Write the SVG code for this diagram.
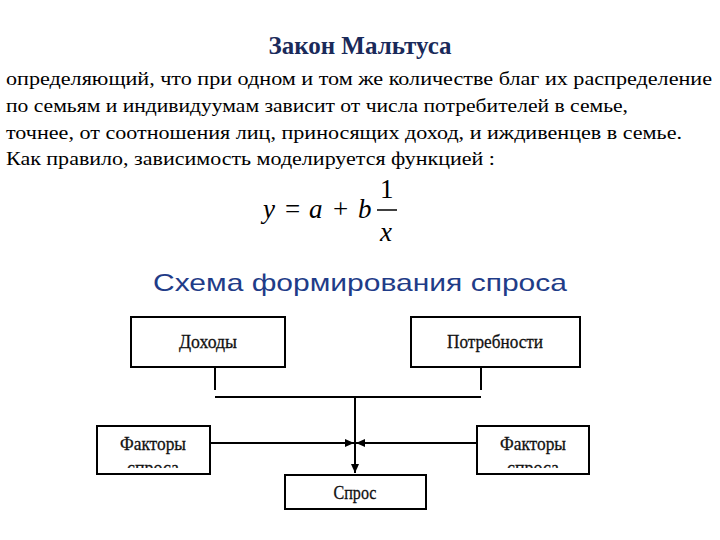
<svg xmlns="http://www.w3.org/2000/svg" width="720" height="540" viewBox="0 0 720 540">
<style>
.b{fill:#fff;stroke:#000;stroke-width:2}
.t{font-family:'Liberation Serif',serif;font-size:19px;fill:#111;text-anchor:middle;stroke:#111;stroke-width:0.3}
.p{font-family:'Liberation Serif',serif;font-size:19.5px;fill:#000}
.c{stroke:#000;stroke-width:2;fill:none}
.m{font-family:'Liberation Serif',serif;font-size:27px;font-style:italic}
.n{font-family:'Liberation Serif',serif;font-size:27px}
</style>
<defs>
<marker id="a" markerWidth="10" markerHeight="10" refX="9" refY="5" orient="auto" markerUnits="userSpaceOnUse"><path d="M0,1 L9,5 L0,9 Z" fill="#000"/></marker>
<clipPath id="cl"><rect x="97" y="426" width="113" height="42"/></clipPath>
<clipPath id="cr"><rect x="477" y="426" width="112" height="42"/></clipPath>
</defs>
<rect width="720" height="540" fill="#fff"/>
<text x="360" y="54" text-anchor="middle" font-family="'Liberation Serif',serif" font-weight="bold" font-size="25" fill="#1a2a5a">Закон Мальтуса</text>
<text class="p" x="6" y="85" textLength="706" lengthAdjust="spacingAndGlyphs">определяющий, что при одном и том же количестве благ их распределение</text>
<text class="p" x="6" y="112" textLength="622" lengthAdjust="spacingAndGlyphs">по семьям и индивидуумам зависит от числа потребителей в семье,</text>
<text class="p" x="6" y="139" textLength="676" lengthAdjust="spacingAndGlyphs">точнее, от соотношения лиц, приносящих доход, и иждивенцев в семье.</text>
<text class="p" x="6" y="165" textLength="489" lengthAdjust="spacingAndGlyphs">Как правило, зависимость моделируется функцией :</text>
<text class="m" x="263" y="218">y</text>
<text class="n" x="285" y="218">=</text>
<text class="m" x="309" y="218">a</text>
<text class="n" x="333" y="218">+</text>
<text class="m" x="358" y="218">b</text>
<text class="n" x="380" y="198">1</text>
<line x1="377" y1="210" x2="397" y2="210" stroke="#000" stroke-width="1.5"/>
<text class="m" x="380" y="241">x</text>
<text x="360" y="291" text-anchor="middle" font-family="'Liberation Sans',Arial,sans-serif" font-size="24" fill="#1f3c88" textLength="414" lengthAdjust="spacingAndGlyphs">Схема формирования спроса</text>
<g id="connectors">
<path class="c" d="M215,367 V390 M481,367 V390 M215,397 H481"/>
<path class="c" d="M355,397 V473" marker-end="url(#a)"/>
<path class="c" d="M210,443 H354" marker-end="url(#a)"/>
<path class="c" d="M477,443 H356" marker-end="url(#a)"/>
</g>
<g id="income"><rect class="b" x="131" y="317" width="154" height="50"/><text class="t" x="208" y="348" textLength="58" lengthAdjust="spacingAndGlyphs">Доходы</text></g>
<g id="needs"><rect class="b" x="411" y="317" width="169" height="50"/><text class="t" x="495" y="348" textLength="96" lengthAdjust="spacingAndGlyphs">Потребности</text></g>
<g id="factorsL"><rect class="b" x="97" y="426" width="113" height="48"/><g clip-path="url(#cl)"><text class="t" x="153" y="450" textLength="66" lengthAdjust="spacingAndGlyphs">Факторы</text><text class="t" x="153" y="474" textLength="52" lengthAdjust="spacingAndGlyphs">спроса</text></g></g>
<g id="factorsR"><rect class="b" x="477" y="426" width="112" height="48"/><g clip-path="url(#cr)"><text class="t" x="533" y="450" textLength="66" lengthAdjust="spacingAndGlyphs">Факторы</text><text class="t" x="533" y="474" textLength="52" lengthAdjust="spacingAndGlyphs">спроса</text></g></g>
<g id="demand"><rect class="b" x="285" y="475" width="141" height="34"/><text class="t" x="355" y="499" textLength="43" lengthAdjust="spacingAndGlyphs">Спрос</text></g>
</svg>
